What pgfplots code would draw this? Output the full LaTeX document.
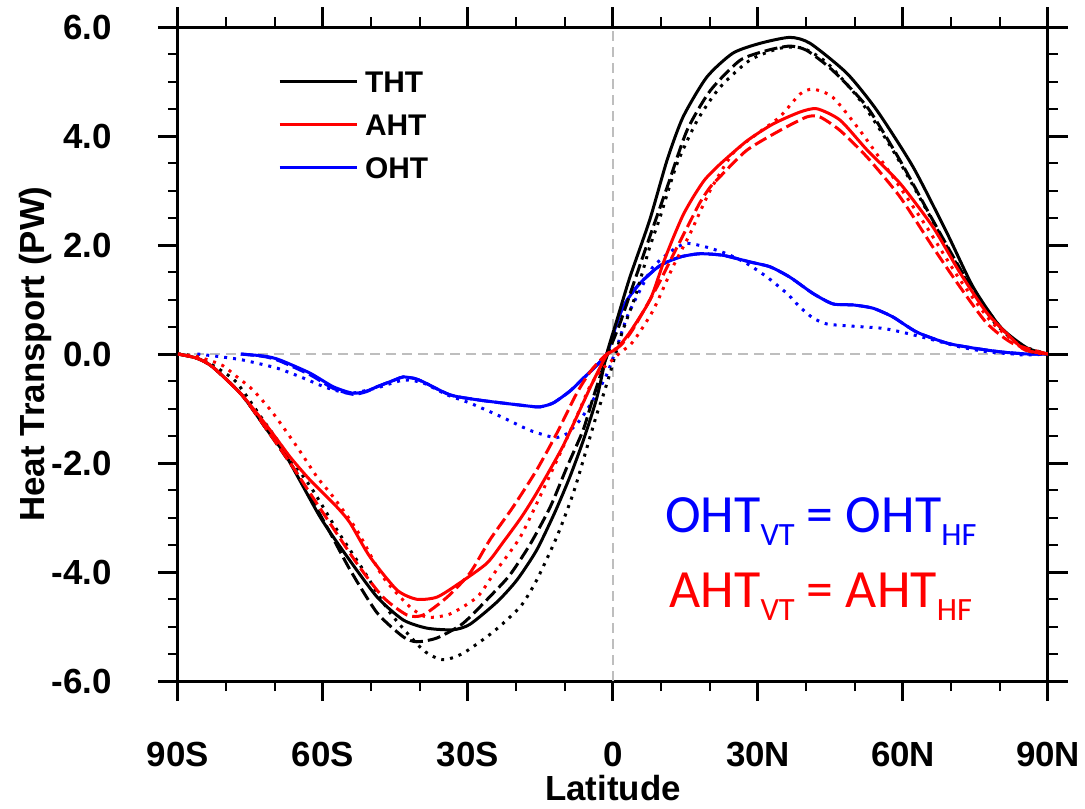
\documentclass[border=0pt]{standalone}
\usepackage{pgfplots}
\pgfplotsset{compat=1.18}
\usepackage{fontspec}
\setmainfont{Liberation Sans}
\newfontfamily\calibri{Carlito}

\definecolor{ncred}{RGB}{255,0,0}
\definecolor{ncblue}{RGB}{0,0,255}
\definecolor{zerogray}{RGB}{190,190,190}

\pgfplotsset{
  solidln/.style={line width=1.5bp, solid, line join=round},
  dashln/.style={line width=1.5bp, dash pattern=on 6.5bp off 2.5bp},
  dotln/.style={line width=1.5bp, dash pattern=on 1.5bp off 3bp},
}

\begin{document}
\begin{tikzpicture}
\useasboundingbox (-89bp,-64bp) rectangle (453.5bp,340.5bp);
\begin{axis}[
  scale only axis,
  width=435bp, height=327bp,
  xmin=-90, xmax=90, ymin=-6, ymax=6,
  xtick={-90,-60,-30,0,30,60,90},
  xticklabels={90S,60S,30S,0,30N,60N,90N},
  ytick={-6,-4,-2,0,2,4,6},
  yticklabels={-6.0,-4.0,-2.0,0.0,2.0,4.0,6.0},
  minor x tick num=2,
  minor y tick num=3,
  tick align=outside,
  major tick length=10bp,
  minor tick length=5bp,
  axis line style={line width=1.5bp},
  major tick style={line width=1.5bp, black},
  minor tick style={line width=1bp, black},
  tick label style={font=\fontsize{17.5}{20}\selectfont\bfseries, inner sep=0pt},
  xticklabel style={anchor=base, yshift=-32.5bp},
  yticklabel style={anchor=east, xshift=-23bp},
  xlabel={Latitude},
  ylabel={Heat Transport (PW)},
  label style={font=\fontsize{17.5}{20}\selectfont\bfseries, inner sep=0pt},
  xlabel style={at={(axis description cs:0.5,-0.182)}, anchor=base},
  ylabel style={at={(axis description cs:-0.1529,0.5)}, anchor=base, rotate=0},
  legend style={at={(axis cs:-69.3,5.21)}, anchor=north west, draw=none, fill=none,
    inner sep=0pt, outer sep=0pt, row sep=10.5bp, column sep=3.5bp,
    font=\fontsize{15}{18}\selectfont\bfseries,
    nodes={inner sep=0pt, text height=11bp, text depth=0bp}},
  legend cell align=left,
  legend image code/.code={\draw[#1] (0bp,0bp) -- (38.5bp,0bp);},
]

% legend entries
\addlegendimage{solidln, black}
\addlegendentry{THT}
\addlegendimage{solidln, ncred}
\addlegendentry{AHT}
\addlegendimage{solidln, ncblue}
\addlegendentry{OHT}

% zero lines
\addplot[forget plot, zerogray, line width=0.75bp, dash pattern=on 5bp off 3bp] coordinates {(-90,0) (90,0)};
\addplot[forget plot, zerogray, line width=0.75bp, dash pattern=on 5bp off 3bp] coordinates {(0,-6) (0,6)};

% OHT solid
\addplot[forget plot, smooth, tension=0.4, solidln, ncblue] coordinates {
(-77,0) (-72,-0.04) (-68.9,-0.11) (-62.7,-0.35) (-57.9,-0.60) (-53.8,-0.72) (-51,-0.68)
(-48.8,-0.60) (-45,-0.47) (-43.4,-0.42) (-41,-0.45) (-39.3,-0.51) (-33.7,-0.75) (-28.1,-0.84)
(-22.8,-0.90) (-17,-0.96) (-15.1,-0.97) (-12.4,-0.90) (-8.9,-0.68) (-6.2,-0.45) (-4.1,-0.27)
(-1.3,0) (0,0.35) (1.4,0.72) (3,1.0) (5.6,1.30) (9.7,1.62) (13.9,1.78) (18,1.84) (22.8,1.81)
(28.3,1.69) (32.5,1.60) (36.6,1.41) (41.4,1.11) (45.5,0.92) (49.7,0.90) (53.8,0.84) (57.9,0.68)
(62.9,0.40) (69.1,0.20) (74.5,0.11) (80.1,0.04) (85.7,0.0) (90,0)};
% OHT dashed
\addplot[forget plot, smooth, tension=0.4, dashln, ncblue] coordinates {
(-77,0) (-72,-0.05) (-68.9,-0.13) (-62.7,-0.38) (-57.9,-0.63) (-53.8,-0.74) (-51,-0.69)
(-48.8,-0.60) (-45,-0.47) (-43.4,-0.42) (-41,-0.45) (-39.3,-0.51) (-33.7,-0.75) (-28.1,-0.84)
(-22.8,-0.90) (-17,-0.96) (-15.1,-0.97) (-12.4,-0.90) (-8.9,-0.68) (-6.2,-0.45) (-4.1,-0.27)
(-1.3,0) (0,0.35) (1.4,0.72) (3,1.0) (5.6,1.30) (9.7,1.62) (13.9,1.78) (18,1.84) (22.8,1.81)
(28.3,1.69) (32.5,1.60) (36.6,1.41) (41.4,1.11) (45.5,0.92) (49.7,0.90) (53.8,0.84) (57.9,0.68)
(62.9,0.40) (69.1,0.20) (74.5,0.11) (80.1,0.04) (85.7,0.0) (90,0)};
% OHT dotted
\addplot[forget plot, smooth, tension=0.4, dotln, ncblue] coordinates {
(-86,0) (-84,-0.02) (-81.3,-0.05) (-76.6,-0.11) (-69.5,-0.26) (-64.1,-0.44) (-59.2,-0.62)
(-54.4,-0.72) (-48.8,-0.62) (-43.4,-0.48) (-39.3,-0.53) (-34.3,-0.75) (-29.6,-0.90)
(-23.4,-1.14) (-17.2,-1.40) (-12.4,-1.53) (-11,-1.52) (-9.5,-1.46) (-6.8,-1.21) (-4.1,-0.84)
(-1.3,-0.38) (0.8,0.13) (2.9,0.68) (5.6,1.17) (8.3,1.60) (12.4,1.91) (15.3,2.03) (19.4,1.96)
(23.5,1.84) (27.7,1.66) (31.9,1.41) (36,1.11) (38.7,0.86) (41.4,0.66) (44.3,0.55) (49.7,0.51)
(55.9,0.47) (60.8,0.38) (66.2,0.26) (71.8,0.13) (77.4,0.04) (82.8,0) (85.3,-0.02) (90,0)};

% THT solid
\addplot[forget plot, smooth, tension=0.4, solidln, black] coordinates {
(-90,0) (-86,-0.08) (-82.8,-0.24) (-76.8,-0.75) (-71.6,-1.39) (-67.5,-1.89) (-60.6,-2.99)
(-55,-3.72) (-48.8,-4.46) (-43.4,-4.88) (-38.5,-5.03) (-33.1,-5.06) (-29.6,-4.96) (-24,-4.55)
(-19.9,-4.15) (-15.8,-3.60) (-12,-2.90) (-8.9,-2.25) (-6,-1.55) (-3.3,-0.79) (-1.3,0)
(0.8,0.62) (3.5,1.41) (7.6,2.46) (11.2,3.56) (14.5,4.35) (19.4,5.08) (24.8,5.52) (30.4,5.70)
(36.6,5.81) (40.8,5.70) (48.4,5.15) (54.6,4.47) (62.1,3.43) (69.1,2.22) (74.5,1.23)
(80.1,0.50) (85.7,0.11) (90,0)};
% THT dashed
\addplot[forget plot, smooth, tension=0.4, dashln, black] coordinates {
(-90,0) (-86,-0.08) (-82.8,-0.24) (-76.8,-0.75) (-71.6,-1.39) (-68,-1.85) (-65.4,-2.19)
(-59.2,-3.17) (-54.4,-3.96) (-48.8,-4.75) (-43.4,-5.19) (-40.6,-5.28) (-36.4,-5.21) (-31,-4.94)
(-24.8,-4.39) (-21.3,-4.05) (-17.2,-3.50) (-13,-2.81) (-9.5,-2.07) (-6.2,-1.40) (-4.1,-0.80)
(-1.3,-0.05) (1.4,0.55) (4.1,1.25) (7.6,2.15) (11.2,3.06) (15.3,4.10) (20.1,4.83) (26.3,5.39)
(31.9,5.57) (36.6,5.65) (40.1,5.57) (45.5,5.20) (52.6,4.53) (59.4,3.55) (66.2,2.45)
(73.2,1.36) (80.1,0.50) (85.7,0.07) (90,0)};
% THT dotted
\addplot[forget plot, smooth, tension=0.4, dotln, black] coordinates {
(-90,0) (-86,-0.05) (-81.3,-0.29) (-77.8,-0.53) (-72.4,-1.21) (-67.5,-1.82) (-62.1,-2.50)
(-57.1,-3.23) (-51.7,-3.96) (-46.1,-4.75) (-39.3,-5.43) (-35.2,-5.61) (-31,-5.49) (-24.8,-5.10)
(-19.2,-4.64) (-15.8,-4.15) (-11.6,-3.35) (-8.2,-2.55) (-5.5,-1.75) (-3.4,-1.12) (-2,-0.75)
(-0.6,-0.35) (0.8,0.08) (2.1,0.45) (4.8,1.11) (7.6,1.96) (9.7,2.50) (13.2,3.48) (17.4,4.28)
(22.1,4.89) (28.3,5.39) (34.5,5.61) (39.3,5.61) (44.3,5.34) (51.1,4.66) (57.9,3.74)
(64.9,2.64) (71.8,1.54) (78.6,0.61) (84.2,0.17) (90,0)};

% AHT solid
\addplot[forget plot, smooth, tension=0.4, solidln, ncred] coordinates {
(-90,0) (-86,-0.08) (-82.8,-0.24) (-76.8,-0.75) (-71,-1.39) (-66.8,-1.89) (-62.7,-2.31)
(-57.1,-2.81) (-54.4,-3.10) (-50.3,-3.72) (-44.7,-4.33) (-40.6,-4.50) (-36.4,-4.46)
(-31.7,-4.20) (-26.1,-3.84) (-22.7,-3.45) (-19,-3.0) (-15.8,-2.55) (-10.4,-1.70) (-6.2,-0.90)
(-4.1,-0.50) (-1.3,-0.02) (0.8,0.1) (3.5,0.4) (7.7,1.0) (10.4,1.67) (12.4,2.12) (14.5,2.55)
(16.6,2.88) (19,3.20) (22.1,3.48) (27.7,3.91) (33.1,4.22) (38.7,4.44) (42.2,4.50) (47,4.29)
(52.6,3.74) (59.4,3.13) (66.2,2.33) (71.8,1.49) (77.4,0.75) (82.8,0.26) (85.3,0.07) (90,0)};
% AHT dashed
\addplot[forget plot, smooth, tension=0.4, dashln, ncred] coordinates {
(-90,0) (-86,-0.08) (-82.8,-0.24) (-76.8,-0.75) (-71.6,-1.39) (-66.8,-2.00) (-62.7,-2.55)
(-58.6,-3.10) (-53,-3.84) (-47.6,-4.46) (-42.6,-4.79) (-39.3,-4.79) (-34.3,-4.46) (-29.6,-4.02)
(-25.4,-3.40) (-20.7,-2.81) (-15.8,-2.13) (-11.6,-1.45) (-7.5,-0.72) (-4.5,-0.30) (-1.3,0)
(1.5,0.15) (4.1,0.45) (9.1,1.23) (13.2,1.95) (15.9,2.42) (18,2.78) (20,3.05) (22.1,3.25)
(27.7,3.74) (34.5,4.10) (40.1,4.35) (42.8,4.35) (47,4.10) (52.6,3.61) (59.4,2.88) (66.2,1.96)
(71.8,1.23) (77.4,0.56) (82.8,0.19) (90,0)};
% AHT dotted
\addplot[forget plot, smooth, tension=0.4, dotln, ncred] coordinates {
(-90,0) (-86,-0.05) (-81,-0.20) (-77.8,-0.42) (-74.5,-0.66) (-70.3,-1.09) (-65.4,-1.70)
(-61.2,-2.26) (-57.9,-2.62) (-53,-3.23) (-47.6,-4.09) (-42,-4.64) (-38.5,-4.83) (-33.7,-4.77)
(-28.1,-4.46) (-24.8,-4.05) (-19.2,-3.36) (-14.5,-2.50) (-10.3,-1.70) (-6.8,-1.00) (-4.8,-0.60)
(-2.5,-0.30) (0,-0.10) (1.4,0.02) (4.1,0.22) (8.3,0.80) (12.4,1.60) (15.9,2.20) (20.1,3.00)
(24.8,3.68) (29.8,4.04) (34.5,4.35) (38.7,4.77) (41.4,4.86) (45.5,4.71) (51.1,4.10)
(57.9,3.25) (64.9,2.33) (71.8,1.36) (78.6,0.56) (85.7,0.07) (90,0)};

% annotations
\node[anchor=base, ncblue, font=\calibri\fontsize{27}{30}\selectfont] at (axis cs:43,-3.28)
  {OHT\raisebox{-6.3bp}{\fontsize{16.3}{18}\selectfont VT} = OHT\raisebox{-6.3bp}{\fontsize{16.3}{18}\selectfont HF}};
\node[anchor=base, ncred, font=\calibri\fontsize{27}{30}\selectfont] at (axis cs:43,-4.66)
  {AHT\raisebox{-6.3bp}{\fontsize{16.3}{18}\selectfont VT} = AHT\raisebox{-6.3bp}{\fontsize{16.3}{18}\selectfont HF}};
\end{axis}
\end{tikzpicture}
\end{document}
